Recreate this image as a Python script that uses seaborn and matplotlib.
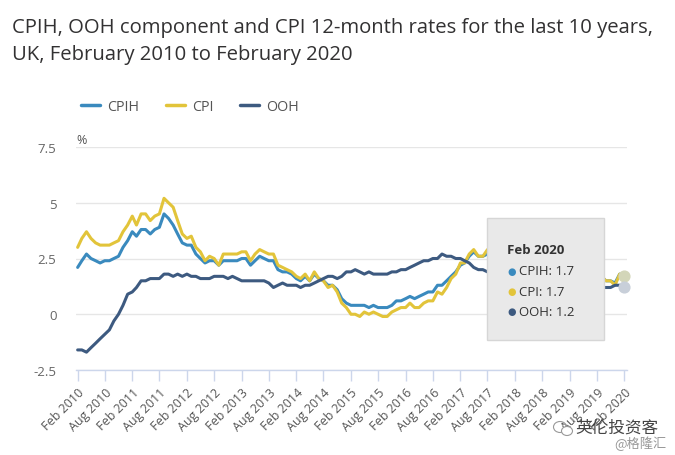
import pandas as pd
import numpy as np
import matplotlib.pyplot as plt
from matplotlib.patches import Rectangle, Ellipse
from matplotlib.lines import Line2D
import seaborn as sns

sns.set_style('white')
plt.rcParams['font.family'] = ['Open Sans', 'Noto Sans CJK SC', 'DejaVu Sans']

# Monthly 12-month rates, Feb 2010 .. Feb 2020
months = pd.date_range('2010-02-01', '2020-02-01', freq='MS')

cpih = [2.1, 2.4, 2.7, 2.5, 2.4, 2.3, 2.4, 2.4, 2.5, 2.6, 3.0,
        3.3, 3.7, 3.5, 3.8, 3.8, 3.6, 3.8, 3.9, 4.5, 4.3, 4.0, 3.6,
        3.2, 3.1, 3.1, 2.7, 2.5, 2.3, 2.4, 2.4, 2.2, 2.4, 2.4, 2.4,
        2.4, 2.5, 2.5, 2.2, 2.4, 2.6, 2.5, 2.4, 2.4, 2.0, 1.9, 1.9,
        1.8, 1.6, 1.5, 1.7, 1.5, 1.8, 1.6, 1.5, 1.3, 1.3, 1.1, 0.7,
        0.5, 0.4, 0.4, 0.4, 0.4, 0.3, 0.4, 0.3, 0.3, 0.3, 0.4, 0.6,
        0.6, 0.7, 0.8, 0.7, 0.8, 0.9, 1.0, 1.0, 1.3, 1.3, 1.5, 1.7,
        1.9, 2.2, 2.3, 2.6, 2.8, 2.6, 2.6, 2.7, 2.8, 2.8, 2.8, 2.7,
        2.7, 2.5, 2.3, 2.2, 2.3, 2.3, 2.3, 2.4, 2.2, 2.2, 2.2, 2.0,
        1.8, 1.8, 1.8, 2.0, 1.9, 1.9, 2.0, 1.7, 1.7, 1.5, 1.5, 1.4,
        1.8, 1.7]

cpi = [3.0, 3.4, 3.7, 3.4, 3.2, 3.1, 3.1, 3.1, 3.2, 3.3, 3.7,
       4.0, 4.4, 4.0, 4.5, 4.5, 4.2, 4.4, 4.5, 5.2, 5.0, 4.8, 4.2,
       3.6, 3.4, 3.5, 3.0, 2.8, 2.4, 2.6, 2.5, 2.2, 2.7, 2.7, 2.7,
       2.7, 2.8, 2.8, 2.4, 2.7, 2.9, 2.8, 2.7, 2.7, 2.2, 2.1, 2.0,
       1.9, 1.7, 1.6, 1.8, 1.5, 1.9, 1.6, 1.5, 1.2, 1.3, 1.0, 0.5,
       0.3, 0.0, 0.0, -0.1, 0.1, 0.0, 0.1, 0.0, -0.1, -0.1, 0.1, 0.2,
       0.3, 0.3, 0.5, 0.3, 0.3, 0.5, 0.6, 0.6, 1.0, 0.9, 1.2, 1.6,
       1.8, 2.3, 2.3, 2.7, 2.9, 2.6, 2.6, 2.9, 3.0, 3.0, 3.1, 3.0,
       3.0, 2.7, 2.5, 2.4, 2.4, 2.4, 2.5, 2.7, 2.4, 2.4, 2.3, 2.1,
       1.8, 1.9, 1.9, 2.1, 2.0, 2.0, 2.1, 1.7, 1.7, 1.5, 1.5, 1.3,
       1.8, 1.7]

ooh = [-1.6, -1.6, -1.7, -1.5, -1.3, -1.1, -0.9, -0.7, -0.3, 0.0, 0.4,
       0.9, 1.0, 1.2, 1.5, 1.5, 1.6, 1.6, 1.6, 1.8, 1.8, 1.7, 1.8,
       1.7, 1.8, 1.7, 1.7, 1.6, 1.6, 1.6, 1.7, 1.7, 1.7, 1.6, 1.7,
       1.6, 1.5, 1.5, 1.5, 1.5, 1.5, 1.5, 1.4, 1.2, 1.3, 1.4, 1.3,
       1.3, 1.3, 1.2, 1.3, 1.3, 1.4, 1.5, 1.6, 1.7, 1.7, 1.6, 1.7,
       1.9, 1.9, 2.0, 1.9, 1.8, 1.9, 1.8, 1.8, 1.8, 1.8, 1.9, 1.9,
       2.0, 2.0, 2.1, 2.2, 2.3, 2.4, 2.4, 2.5, 2.5, 2.7, 2.6, 2.6,
       2.5, 2.5, 2.4, 2.3, 2.1, 2.0, 2.0, 1.9, 1.9, 1.8, 1.7, 1.6,
       1.6, 1.5, 1.5, 1.4, 1.4, 1.3, 1.3, 1.3, 1.2, 1.2, 1.2, 1.2,
       1.2, 1.2, 1.2, 1.2, 1.2, 1.2, 1.2, 1.2, 1.2, 1.2, 1.2, 1.3,
       1.3, 1.2]

tick_labels = ['Feb 2010', 'Aug 2010', 'Feb 2011', 'Aug 2011', 'Feb 2012',
               'Aug 2012', 'Feb 2013', 'Aug 2013', 'Feb 2014', 'Aug 2014',
               'Feb 2015', 'Aug 2015', 'Feb 2016', 'Aug 2016', 'Feb 2017',
               'Aug 2017', 'Feb 2018', 'Aug 2018', 'Feb 2019', 'Aug 2019',
               'Feb 2020']
y_ticks = [-2.5, 0, 2.5, 5, 7.5]
y_tick_labels = ['-2.5', '0', '2.5', '5', '7.5']

series_names = ['CPIH', 'CPI', 'OOH']
colors = {'CPIH': '#3a8abe', 'CPI': '#e2c43a', 'OOH': '#3d5a80'}

df = pd.DataFrame({'month': months, 'CPIH': cpih, 'CPI': cpi, 'OOH': ooh})
long_df = df.melt(id_vars='month', var_name='series', value_name='rate')

W, H = 675, 456
fig = plt.figure(figsize=(W / 100, H / 100), dpi=100)
ax = fig.add_axes([76 / W, 1 - 371 / H, 551 / W, 223 / H])

sns.lineplot(data=long_df, x='month', y='rate', hue='series',
             hue_order=series_names, palette=colors, linewidth=2.2,
             legend=False, ax=ax)

# hover halos on the last point
ax.scatter([months[-1]], [cpi[-1]], s=60, color='#d3d6b9', zorder=5, clip_on=False)
ax.scatter([months[-1]], [ooh[-1]], s=60, color='#c8cfd9', zorder=5, clip_on=False)

ax.set_xlim(months[0] - pd.Timedelta(days=11), months[-1] + pd.Timedelta(days=18))
ax.set_ylim(-2.5, 7.5)
ax.set_yticks(y_ticks)
ax.set_yticklabels(y_tick_labels)
ax.set_xticks(months[::6])
ax.set_xticklabels(tick_labels, rotation=45, ha='right', va='top',
                   rotation_mode='anchor')
ax.set_xlabel('')
ax.set_ylabel('')

for s in ['top', 'left', 'right']:
    ax.spines[s].set_visible(False)
ax.spines['bottom'].set_color('#ccd6eb')
ax.spines['bottom'].set_linewidth(1)
ax.yaxis.grid(True, color='#e6e6e6', linewidth=1)
ax.xaxis.grid(False)
ax.tick_params(axis='x', colors='#ccd6eb', length=8, width=1, pad=3,
               labelcolor='#555555', labelsize=9, direction='out', bottom=True)
ax.tick_params(axis='y', length=0, pad=14, labelcolor='#666666', labelsize=9.5)

# title
fig.text(12 / W, 1 - 28 / H, 'CPIH, OOH component and CPI 12-month rates for the last 10 years,',
         fontsize=14.6, color='#323132', va='center', ha='left')
fig.text(12 / W, 1 - 55 / H, 'UK, February 2010 to February 2020',
         fontsize=14.6, color='#323132', va='center', ha='left')

# legend
handles = [Line2D([0], [0], color=colors[n], lw=2.5) for n in series_names]
fig.legend(handles, series_names, loc='center left',
           bbox_to_anchor=(81 / W, 1 - 108 / H), ncol=3, frameon=False,
           borderpad=0, borderaxespad=0,
           handlelength=1.3, handletextpad=0.5, columnspacing=1.9,
           fontsize=10.3, labelcolor='#555555')

fig.text(76 / W, 1 - 140 / H, '%', fontsize=9, color='#555555', va='center', ha='left')

# tooltip box
fig.add_artist(Rectangle((487 / W, 1 - 341 / H), 117 / W, 122 / H,
                         transform=fig.transFigure, facecolor='#e9e9e9',
                         edgecolor='#d6d6d6', linewidth=1, zorder=10))
fig.text(507 / W, 1 - 251 / H, 'Feb 2020', fontsize=9.5, fontweight='bold',
         color='#333333', va='center', ha='left', zorder=11)
tip_rows = [('CPIH', cpih[-1]), ('CPI', cpi[-1]), ('OOH', ooh[-1])]
for i, (name, val) in enumerate(tip_rows):
    yy = 1 - (272 + i * 20) / H
    fig.text(507 / W, yy, '\u25CF', fontsize=7, color=colors[name],
             va='center', ha='left', zorder=11, family='DejaVu Sans')
    fig.text(519 / W, yy, f'{name}: {val}', fontsize=9.5, color='#333333',
             va='center', ha='left', zorder=11)

# watermark
fig.add_artist(Ellipse((560 / W, 1 - 428 / H), 13 / W, 11 / H,
                       transform=fig.transFigure, facecolor='none',
                       edgecolor='#999999', linewidth=0.8, zorder=12))
fig.add_artist(Ellipse((567 / W, 1 - 432 / H), 11 / W, 9 / H,
                       transform=fig.transFigure, facecolor='white',
                       edgecolor='#999999', linewidth=0.8, zorder=12))
fig.text(575 / W, 1 - 428 / H, '英伦投资客', fontsize=12, color='#444444',
         va='center', ha='left', family=['Noto Sans CJK SC', 'DejaVu Sans'])
fig.text(614 / W, 1 - 444 / H, '@格隆汇', fontsize=9.5, color='#999999',
         va='center', ha='left', family=['Noto Sans CJK SC', 'DejaVu Sans'])

fig.savefig('out.png', dpi=100)
